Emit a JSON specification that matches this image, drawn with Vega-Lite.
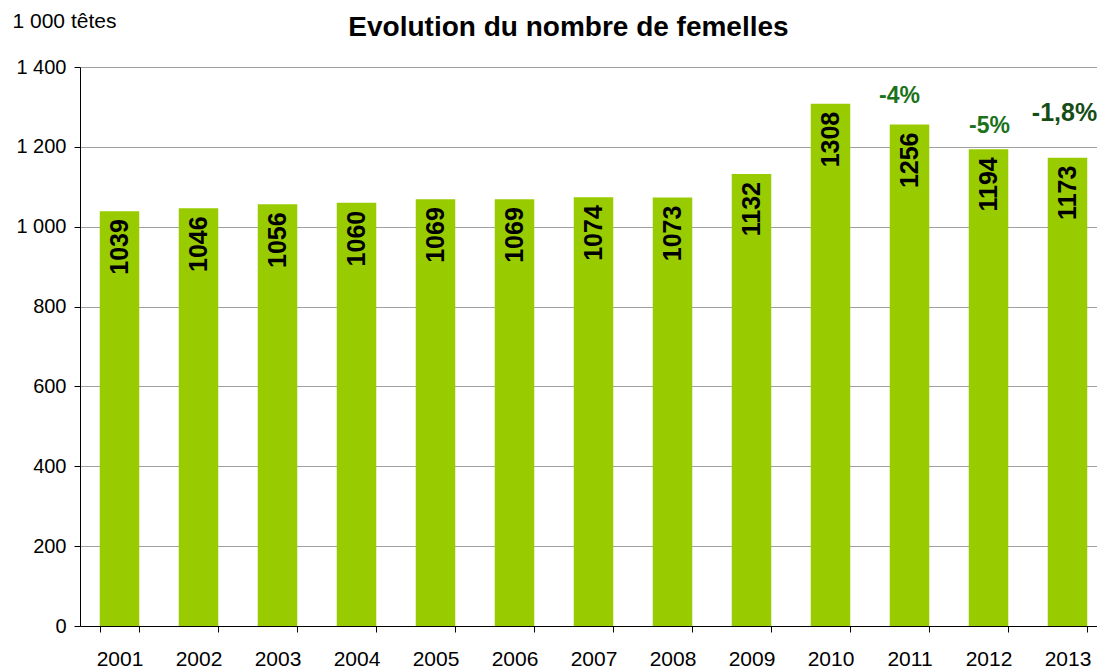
{
  "$schema": "https://vega.github.io/schema/vega-lite/v6.json",
  "autosize": {"type": "none"},
  "padding": {"left": 80, "top": 67, "right": 0, "bottom": 43},
  "width": 1027,
  "height": 559,
  "config": {
    "font": "Liberation Sans",
    "view": {"stroke": null},
    "locale": {"number": {"decimal": ",", "thousands": " ", "grouping": [3], "currency": ["", " €"]}}
  },
  "title": {
    "text": "Evolution du nombre de femelles",
    "font": "Liberation Sans",
    "fontSize": 28,
    "fontWeight": "bold",
    "color": "#000000",
    "anchor": "middle",
    "frame": "group",
    "dx": -25,
    "baseline": "alphabetic",
    "offset": -54
  },
  "data": {
    "values": [
      {"year": "2001", "value": 1039},
      {"year": "2002", "value": 1046},
      {"year": "2003", "value": 1056},
      {"year": "2004", "value": 1060},
      {"year": "2005", "value": 1069},
      {"year": "2006", "value": 1069},
      {"year": "2007", "value": 1074},
      {"year": "2008", "value": 1073},
      {"year": "2009", "value": 1132},
      {"year": "2010", "value": 1308},
      {"year": "2011", "value": 1256},
      {"year": "2012", "value": 1194},
      {"year": "2013", "value": 1173}
    ]
  },
  "encoding": {
    "x": {
      "field": "year",
      "type": "ordinal",
      "scale": {"paddingInner": 0.5, "paddingOuter": 0.25},
      "axis": {
        "title": null,
        "labelAngle": 0,
        "labelFontSize": 21,
        "labelColor": "#000000",
        "labelPadding": 16,
        "tickBand": "extent",
        "tickSize": 6,
        "tickColor": "#000000",
        "domainColor": "#000000",
        "grid": false
      }
    }
  },
  "layer": [
    {
      "mark": {"type": "bar", "color": "#99CC00"},
      "encoding": {
        "y": {
          "field": "value",
          "type": "quantitative",
          "scale": {"domain": [0, 1400], "nice": false},
          "axis": {
            "title": "1 000 têtes",
            "titleAngle": 0,
            "titleX": -68,
            "titleY": -40,
            "titleAlign": "left",
            "titleBaseline": "alphabetic",
            "titleFontSize": 21,
            "titleFontWeight": "normal",
            "titleColor": "#000000",
            "values": [0, 200, 400, 600, 800, 1000, 1200, 1400],
            "format": ",d",
            "labelFontSize": 20,
            "labelColor": "#000000",
            "labelPadding": 8,
            "tickSize": 6,
            "tickColor": "#000000",
            "domainColor": "#000000",
            "gridColor": "#a0a0a0",
            "grid": true
          }
        }
      }
    },
    {
      "mark": {"type": "text", "angle": 270, "align": "right", "baseline": "middle", "dx": -8, "fontSize": 25, "fontWeight": "bold", "color": "#000000"},
      "encoding": {
        "y": {"field": "value", "type": "quantitative"},
        "text": {"field": "value", "type": "quantitative", "format": "d"}
      }
    },
    {
      "data": {"values": [{"year": "2011", "pos": 1310, "label": "-4%"}]},
      "mark": {"type": "text", "align": "center", "baseline": "alphabetic", "dx": -10, "fontSize": 23, "fontWeight": "bold", "color": "#1a731a"},
      "encoding": {
        "y": {"field": "pos", "type": "quantitative"},
        "text": {"field": "label"}
      }
    },
    {
      "data": {"values": [{"year": "2012", "pos": 1235, "label": "-5%"}]},
      "mark": {"type": "text", "align": "center", "baseline": "alphabetic", "dx": 1, "fontSize": 23, "fontWeight": "bold", "color": "#1a731a"},
      "encoding": {
        "y": {"field": "pos", "type": "quantitative"},
        "text": {"field": "label"}
      }
    },
    {
      "data": {"values": [{"year": "2013", "pos": 1265, "label": "-1,8%"}]},
      "mark": {"type": "text", "align": "center", "baseline": "alphabetic", "dx": -3, "fontSize": 25, "fontWeight": "bold", "color": "#154d15"},
      "encoding": {
        "y": {"field": "pos", "type": "quantitative"},
        "text": {"field": "label"}
      }
    }
  ]
}
